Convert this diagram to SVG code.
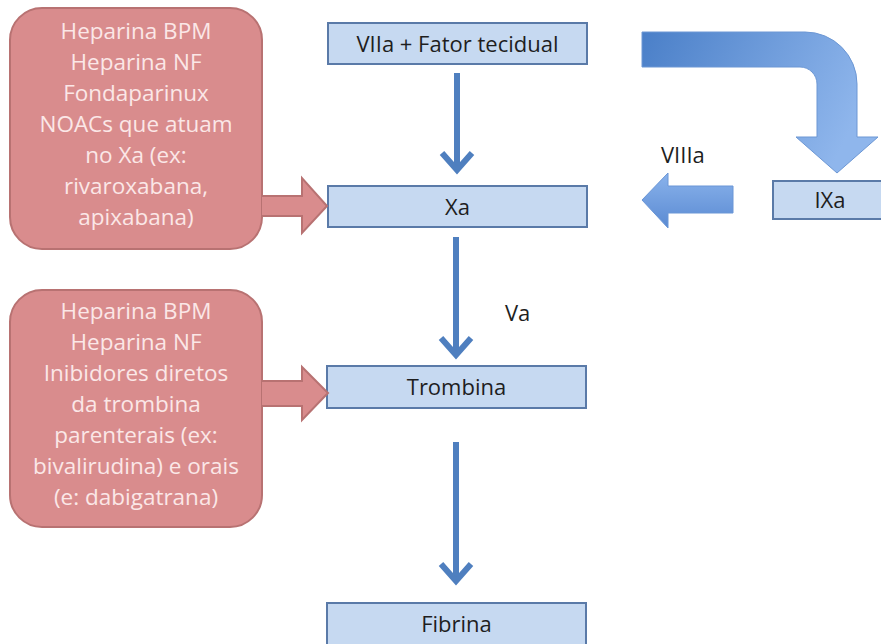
<svg xmlns="http://www.w3.org/2000/svg" width="881" height="644" viewBox="0 0 881 644">
<defs>
<style>
.red{fill:#d98c8d;stroke:#b87272;stroke-width:2}
.rt{font-family:"Open Sans","Liberation Sans",sans-serif;font-size:22.5px;fill:#fbe7e7;text-anchor:middle}
.blue{fill:#c6d9f1;stroke:#5a7aa8;stroke-width:2}
.bt{font-family:"Open Sans","Liberation Sans",sans-serif;font-size:22px;fill:#1e1e1e;text-anchor:middle}
.lbl{font-family:"Open Sans","Liberation Sans",sans-serif;font-size:22px;fill:#1e1e1e}
.vline{fill:none;stroke:#4f7fbf;stroke-width:6}
.vhead{fill:none;stroke:#4f7fbf;stroke-width:6;stroke-linejoin:miter}
</style>
<linearGradient id="gCurve" x1="0" y1="0" x2="1" y2="0.3">
<stop offset="0" stop-color="#4a7fc8"/>
<stop offset="1" stop-color="#8fb6ec"/>
</linearGradient>
<linearGradient id="gLeft" x1="0" y1="0" x2="0" y2="1">
<stop offset="0" stop-color="#8ab3ec"/>
<stop offset="1" stop-color="#5a8ad2"/>
</linearGradient>
</defs>
<rect width="881" height="644" fill="#ffffff"/>

<g id="inhib-xa">
<rect class="red" x="10" y="8" width="252" height="241" rx="32"/>
<text class="rt" x="136" y="39">Heparina BPM</text>
<text class="rt" x="136" y="70">Heparina NF</text>
<text class="rt" x="136" y="101">Fondaparinux</text>
<text class="rt" x="136" y="132">NOACs que atuam</text>
<text class="rt" x="136" y="163">no Xa (ex:</text>
<text class="rt" x="136" y="194">rivaroxabana,</text>
<text class="rt" x="136" y="225">apixabana)</text>
</g>

<g id="inhib-trombina">
<rect class="red" x="10" y="290" width="252" height="237" rx="32"/>
<text class="rt" x="136" y="319">Heparina BPM</text>
<text class="rt" x="136" y="350">Heparina NF</text>
<text class="rt" x="136" y="381">Inibidores diretos</text>
<text class="rt" x="136" y="412">da trombina</text>
<text class="rt" x="136" y="443">parenterais (ex:</text>
<text class="rt" x="136" y="474">bivalirudina) e orais</text>
<text class="rt" x="136" y="505">(e: dabigatrana)</text>
</g>

<g id="viia">
<rect class="blue" x="328" y="23" width="259" height="41"/>
<text class="bt" x="457.5" y="51.5">VIIa + Fator tecidual</text>
</g>
<g id="xa">
<rect class="blue" x="328" y="186" width="259" height="41"/>
<text class="bt" x="457.5" y="214.5">Xa</text>
</g>
<g id="trombina">
<rect class="blue" x="327" y="366" width="259" height="42"/>
<text class="bt" x="456.5" y="395">Trombina</text>
</g>
<g id="fibrina">
<rect class="blue" x="327" y="603" width="259" height="42"/>
<text class="bt" x="456.5" y="632">Fibrina</text>
</g>
<g id="ixa">
<rect class="blue" x="773" y="181" width="120" height="38"/>
<text class="bt" x="830" y="208">IXa</text>
</g>

<g id="connectors">
<path class="red" d="M262,196 H302 V178 L327,206 L302,233 V216 H262"/>
<path class="red" d="M262,381 H302 V367 L328,393 L302,420 V406 H262"/>
<path class="vline" d="M457,73 V168"/>
<path class="vhead" d="M442,153 L457,170 L472,153"/>
<path class="vline" d="M456,237 V353"/>
<path class="vhead" d="M441,338 L456,355 L471,338"/>
<path class="vline" d="M456,442 V579"/>
<path class="vhead" d="M441,564 L456,581 L471,564"/>
<path d="M642,32 H805 A52,52 0 0 1 857,84 V137 H878 L837,173 L796,137 H817 V84 A17,17 0 0 0 800,67 H642 Z" fill="url(#gCurve)" stroke="#6c97d4" stroke-width="1"/>
<path d="M733,186 H668 V173 L642,200 L668,228 V213 H733 Z" fill="url(#gLeft)" stroke="#6a96d6" stroke-width="1"/>
<text class="lbl" x="661" y="163">VIIIa</text>
<text class="lbl" x="505" y="321">Va</text>
</g>
</svg>
